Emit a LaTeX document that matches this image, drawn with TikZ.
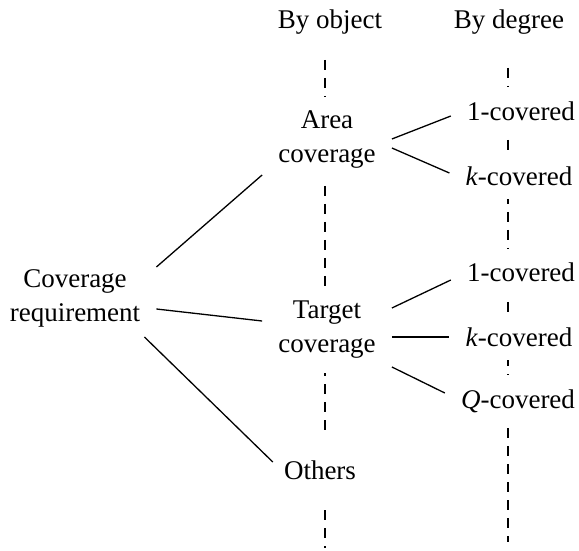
\documentclass[tikz,border=0pt]{standalone}
\usepackage{fontspec}
\setmainfont{Liberation Serif}
\begin{document}
\begin{tikzpicture}[x=1pt, y=1pt,
        font=\fontsize{27}{34}\selectfont,
        item/.style={align=center, fill=white, inner xsep=16pt, inner ysep=14pt},
        link/.style={line width=1.3pt},
        guide/.style={line width=1.3pt, dash pattern=on 10pt off 8pt}]
        \useasboundingbox (0,0) rectangle (579,550);

        % --- 見出し ---
        \node (hobj) at (330,528) {By object};
        \node (hdeg) at (509,528) {By degree};

        % --- 破線 (ノードの背後) ---
        \coordinate (objtop) at (325,490);
        \coordinate (objbot) at (325,2);
        \coordinate (degtop) at (508,482);
        \coordinate (degbot) at (508,8);
        \draw[guide] (objtop) -- (objbot);
        \draw[guide] (degtop) -- (degbot);

        % --- ノード ---
        \node[item] (cr) at (75,252) {Coverage\\requirement};
        \node[item] (area) at (327,410) {Area\\coverage};
        \node[item] (target) at (327,220) {Target\\coverage};
        \node[item, inner ysep=28pt] (others) at (320,80) {Others};

        \node[item] (a1) at (521,439) {1-covered};
        \node[item] (ak) at (519,374) {\textit{k}-covered};
        \node[item] (t1) at (521,278) {1-covered};
        \node[item] (tk) at (519,213) {\textit{k}-covered};
        \node[item] (tq) at (518,149) {\textit{Q}-covered};

        % --- 接続線 ---
        \draw[link] ([yshift=31pt]cr.east) -- ([yshift=-35pt]area.west);
        \draw[link] ([yshift=-11pt]cr.east) -- ([yshift=9pt]target.west);
        \draw[link] ([xshift=-12pt, yshift=-39pt]cr.east) -- ([xshift=5pt, yshift=8pt]others.west);

        \draw[link] ([yshift=1pt]area.east) -- ([yshift=-5pt]a1.west);
        \draw[link] ([yshift=-8pt]area.east) -- ([yshift=3pt]ak.west);

        \draw[link] ([yshift=22pt]target.east) -- ([yshift=-8pt]t1.west);
        \draw[link] (target.east |- tk.west) -- (tk.west);
        \draw[link] ([yshift=-37pt]target.east) -- ([yshift=8pt]tq.west);

    \end{tikzpicture}
\end{document}
